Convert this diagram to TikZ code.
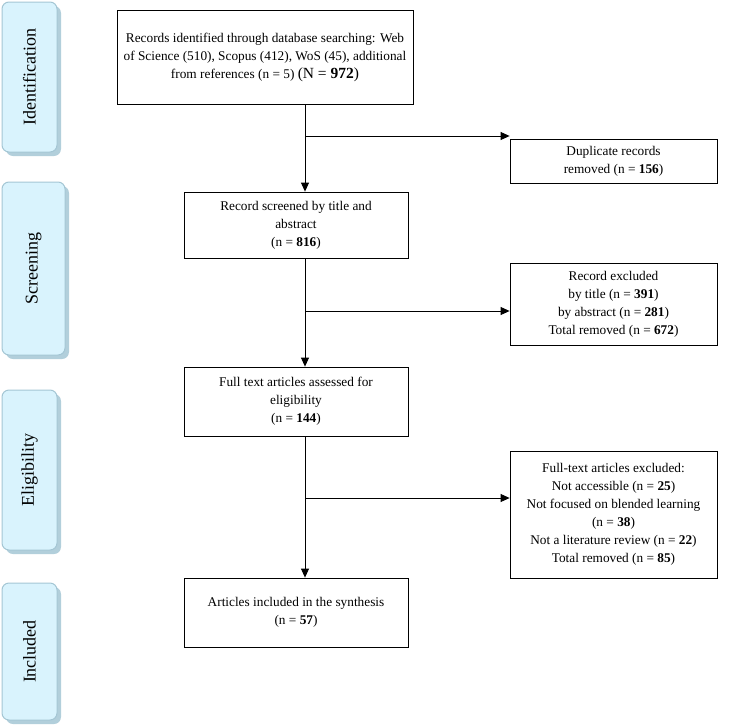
\documentclass[tikz,border=0pt]{standalone}
\usepackage{fontspec}
\setmainfont{Liberation Serif}
\usetikzlibrary{arrows.meta}
\begin{document}
\begin{tikzpicture}[x=1pt,y=-1pt,
  box/.style={draw,line width=0.8pt,align=center,font=\fontsize{13.3}{18}\selectfont,inner sep=2pt},
  side/.style={draw=cyan!40!gray!60,fill=cyan!15,rounded corners=7pt,line width=1pt},
  shad/.style={fill=gray!60!cyan!50,rounded corners=7pt},
  lbl/.style={rotate=90,font=\fontsize{18}{20}\selectfont},
  arr/.style={-{Triangle[length=9pt,width=8pt]},line width=0.8pt}]
\useasboundingbox (0,0) rectangle (753,726);
\foreach \n/\a/\b/\c/\d/\t in {si/2/2/57/152/Identification, ss/2/182/65/355/Screening, se/2/390/57/550/Eligibility, sc/2/583/57/720/Included}{
  \fill[shad] (\a+4,\b+4) rectangle (\c+4,\d+4);
  \draw[side] (\a,\b) rectangle (\c,\d);
  \node[lbl] (\n) at ({(\a+\c)/2},{(\b+\d)/2}) {\t};
}
\node[box,minimum width=296,minimum height=94] (b1) at (265,57) {Records identified through database searching: Web\\of Science (510), Scopus (412), WoS (45), additional\\from references (n = 5) {\fontsize{15.5}{18}\selectfont(N = \textbf{972})}};
\node[box,minimum width=207,minimum height=44] (d1) at (613.5,161) {Duplicate records\\removed (n = \textbf{156})};
\node[box,minimum width=224,minimum height=66] (b2) at (296,225) {Record screened by title and\\abstract\\(n = \textbf{816})};
\node[box,minimum width=207,minimum height=82] (d2) at (613.5,304) {Record excluded\\by title (n = \textbf{391})\\by abstract (n = \textbf{281})\\Total removed (n = \textbf{672})};
\node[box,minimum width=224,minimum height=69] (b3) at (296,401.5) {Full text articles assessed for\\eligibility\\(n = \textbf{144})};
\node[box,minimum width=207,minimum height=127] (d3) at (613.5,514.5) {Full-text articles excluded:\\Not accessible (n = \textbf{25})\\Not focused on blended learning\\(n = \textbf{38})\\Not a literature review (n = \textbf{22})\\Total removed (n = \textbf{85})};
\node[box,minimum width=224,minimum height=69] (b4) at (296,612.5) {Articles included in the synthesis\\(n = \textbf{57})};
\coordinate (j1) at (305,136);
\coordinate (j2) at (305,311);
\coordinate (j3) at (305,498);
\draw[line width=0.8pt] (b1.south -| j1) -- (j1);
\draw[arr] (j1) -- (j1 |- b2.north);
\draw[arr] (j1) -- (j1 -| d1.west);
\draw[line width=0.8pt] (b2.south -| j2) -- (j2);
\draw[arr] (j2) -- (j2 |- b3.north);
\draw[arr] (j2) -- (j2 -| d2.west);
\draw[line width=0.8pt] (b3.south -| j3) -- (j3);
\draw[arr] (j3) -- (j3 |- b4.north);
\draw[arr] (j3) -- (j3 -| d3.west);
\end{tikzpicture}
\end{document}
